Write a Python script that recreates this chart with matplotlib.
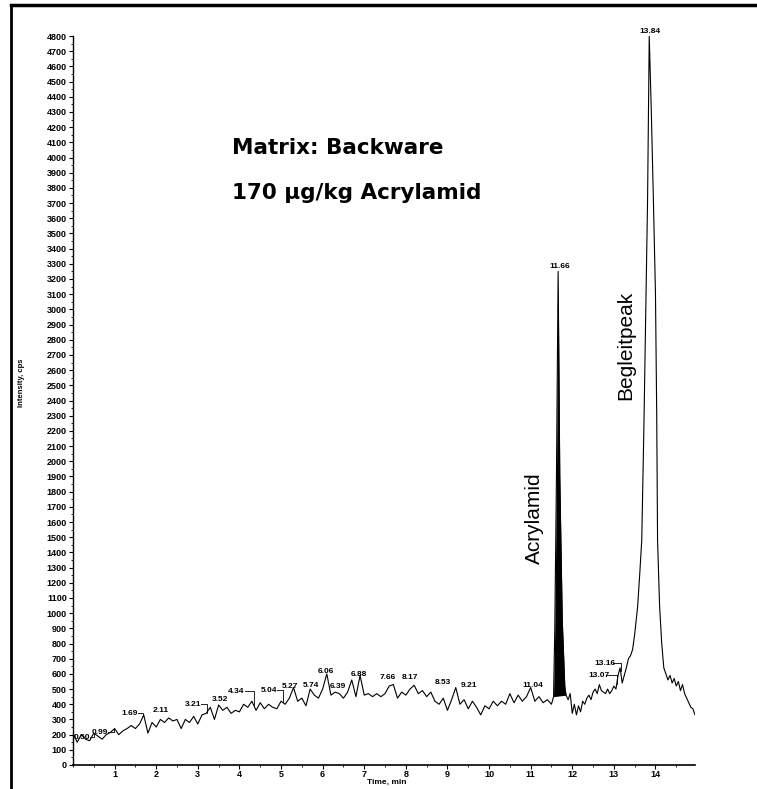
import numpy as np
import matplotlib
matplotlib.use("Agg")
import matplotlib.pyplot as plt
from matplotlib.lines import Line2D
from matplotlib.ticker import MultipleLocator

plt.rcParams['font.family'] = ['Liberation Sans', 'DejaVu Sans']

# ---------------- data ----------------
time_min = [
    0.0, 0.1, 0.2, 0.3, 0.4, 0.5, 0.6, 0.7, 0.8, 0.9,
    1.0, 1.1, 1.2, 1.3, 1.4, 1.5, 1.6, 1.7, 1.8, 1.9,
    2.0, 2.1, 2.2, 2.3, 2.4, 2.5, 2.6, 2.7, 2.8, 2.9,
    3.0, 3.1, 3.2, 3.3, 3.4, 3.5, 3.6, 3.7, 3.8, 3.9,
    4.0, 4.1, 4.2, 4.3, 4.4, 4.5, 4.6, 4.7, 4.8, 4.9,
    5.0, 5.1, 5.2, 5.3, 5.4, 5.5, 5.6, 5.7, 5.8, 5.9,
    6.0, 6.1, 6.2, 6.3, 6.4, 6.5, 6.6, 6.7, 6.8, 6.9,
    7.0, 7.1, 7.2, 7.3, 7.4, 7.5, 7.6, 7.7, 7.8, 7.9,
    8.0, 8.1, 8.2, 8.3, 8.4, 8.5, 8.6, 8.7, 8.8, 8.9,
    9.0, 9.1, 9.2, 9.3, 9.4, 9.5, 9.6, 9.7, 9.8, 9.9,
    10.0, 10.1, 10.2, 10.3, 10.4, 10.5, 10.6, 10.7, 10.8, 10.9,
    11.0, 11.1, 11.2, 11.3, 11.4, 11.5,
    11.55, 11.58, 11.62, 11.66, 11.70, 11.76, 11.82, 11.85,
    11.9, 11.95, 12.0, 12.05, 12.1, 12.15, 12.2, 12.25, 12.3, 12.35,
    12.4, 12.45, 12.5, 12.55, 12.6, 12.65, 12.7, 12.75, 12.8, 12.85,
    12.9, 12.95, 13.0, 13.05, 13.1, 13.15, 13.2, 13.25, 13.3, 13.35,
    13.4, 13.45, 13.5, 13.57, 13.62, 13.67, 13.72, 13.77, 13.81, 13.85,
    13.90, 13.95, 14.0, 14.03, 14.05, 14.1, 14.15, 14.2, 14.25,
    14.3, 14.35, 14.4, 14.45, 14.5, 14.55, 14.6, 14.65, 14.7, 14.75,
    14.8, 14.85, 14.9, 14.95,
]
intensity_cps = [
    210, 150, 200, 170, 160, 210, 190, 170, 200, 215,
    240, 200, 225, 240, 260, 240, 270, 330, 210, 280,
    250, 300, 280, 310, 290, 300, 240, 300, 280, 320,
    270, 330, 340, 380, 300, 395, 360, 380, 340, 360,
    350, 400, 380, 420, 360, 410, 370, 400, 380, 370,
    420, 400, 440, 510, 420, 440, 390, 500, 460, 440,
    500, 600, 460, 480, 470, 440, 480, 560, 450, 590,
    460, 470, 450, 470, 450, 470, 520, 530, 440, 480,
    460, 500, 525, 470, 490, 450, 480, 420, 400, 440,
    360, 430, 510, 400, 430, 370, 420, 380, 330, 390,
    370, 420, 390, 420, 400, 470, 410, 460, 420, 450,
    510, 420, 450, 410, 430, 400,
    450, 900, 1900, 3250, 1900, 950, 520, 460,
    430, 470, 340, 400, 330, 390, 350, 420, 400, 440,
    460, 430, 480, 500, 470, 530, 490, 480, 470, 500,
    470, 490, 520, 500, 590, 640, 540, 590, 640, 700,
    720, 760, 860, 1040, 1250, 1480, 2200, 3060, 3720, 4800,
    4300, 3720, 3100, 2300, 1480, 1040, 800, 640, 600,
    560, 590, 540, 570, 520, 550, 490, 530, 470, 440,
    410, 380, 370, 330,
]

# Acrylamid peak window (filled black)
acryl_start, acryl_end = 11.55, 11.85

# Peak retention-time labels
peak_labels = ["0.50", "0.99", "1.69", "2.11", "3.21", "3.52", "4.34", "5.04",
               "5.27", "5.74", "6.06", "6.39", "6.88", "7.66", "8.17", "8.53",
               "9.21", "11.04", "11.66", "13.07", "13.16", "13.84"]
label_x = [0.22, 0.64, 1.36, 2.12, 2.88, 3.53, 3.93, 4.70, 5.21, 5.73, 6.07,
           6.36, 6.86, 7.56, 8.09, 8.88, 9.53, 11.05, 11.70, 12.64, 12.78, 13.86]
label_y = [184, 215, 342, 362, 400, 428, 486, 493, 520, 526, 618, 520, 599,
           579, 579, 546, 526, 526, 3283, 592, 671, 4830]

x_ticks = list(range(1, 15))
y_ticks = list(range(0, 4801, 100))

# ---------------- figure ----------------
fig = plt.figure(figsize=(7.57, 7.89), dpi=100)
ax = fig.add_axes([73 / 757, 24 / 789, (695 - 73) / 757, (765 - 36) / 789])

t = np.array(time_min)
y = np.array(intensity_cps)
ax.plot(t, y, color='black', lw=0.8)

mask = (t >= acryl_start) & (t <= acryl_end)
base = np.interp(t[mask], [acryl_start, acryl_end],
                 [np.interp(acryl_start, t, y), np.interp(acryl_end, t, y)])
ax.fill_between(t[mask], y[mask], base, color='black', lw=0)

ax.set_xlim(0, 14.95)
ax.set_ylim(0, 4800)
ax.set_xticks(x_ticks)
ax.set_yticks(y_ticks)
ax.xaxis.set_minor_locator(MultipleLocator(0.5))
ax.yaxis.set_minor_locator(MultipleLocator(50))
ax.tick_params(axis='both', which='major', length=3, width=0.8, pad=1.5,
               labelsize=6.5)
ax.tick_params(axis='x', which='major', pad=0.5)
ax.tick_params(axis='both', which='minor', length=1.5, width=0.6)
for lab in ax.get_xticklabels() + ax.get_yticklabels():
    lab.set_fontweight('bold')
for side in ('top', 'right'):
    ax.spines[side].set_visible(False)
ax.spines['left'].set_linewidth(1.0)
ax.spines['bottom'].set_linewidth(1.2)

ax.set_xlabel("Time, min", fontsize=6, fontweight='bold')
ax.xaxis.set_label_coords(0.505, -0.0185)
ax.set_ylabel("Intensity, cps", fontsize=5.5, fontweight='bold')
ax.yaxis.set_label_coords(-0.077, 0.525)

# peak labels with leader lines
for lab, lx, ly in zip(peak_labels, label_x, label_y):
    ax.text(lx, ly, lab, fontsize=6, fontweight='bold', ha='center',
            va='center')
    pt = float(lab)
    if pt - lx > 0.25:
        py = np.interp(pt, t, y)
        ax.plot([lx + 0.2, pt, pt], [ly, ly, py], color='black', lw=0.6)

# annotations
ax.text(232 / 757, 1 - 148 / 789, "Matrix: Backware", transform=fig.transFigure,
        fontsize=15.5, fontweight='bold', family='DejaVu Sans',
        ha='left', va='center')
ax.text(232 / 757, 1 - 193 / 789, "170 µg/kg Acrylamid",
        transform=fig.transFigure, fontsize=15.5, fontweight='bold',
        family='DejaVu Sans', ha='left', va='center')
fig.text(534 / 757, 1 - 518 / 789, "Acrylamid", rotation=90, fontsize=15,
         ha='center', va='center')
fig.text(626 / 757, 1 - 345 / 789, "Begleitpeak", rotation=90, fontsize=15,
         ha='center', va='center')

# outer frame lines
fig.add_artist(Line2D([11 / 757, 11 / 757], [0, 1 - 5 / 789], color='black',
                      lw=2.0, transform=fig.transFigure))
fig.add_artist(Line2D([11 / 757, 1], [1 - 5 / 789, 1 - 5 / 789], color='black',
                      lw=2.5, transform=fig.transFigure))

fig.savefig("out.png", dpi=100)
